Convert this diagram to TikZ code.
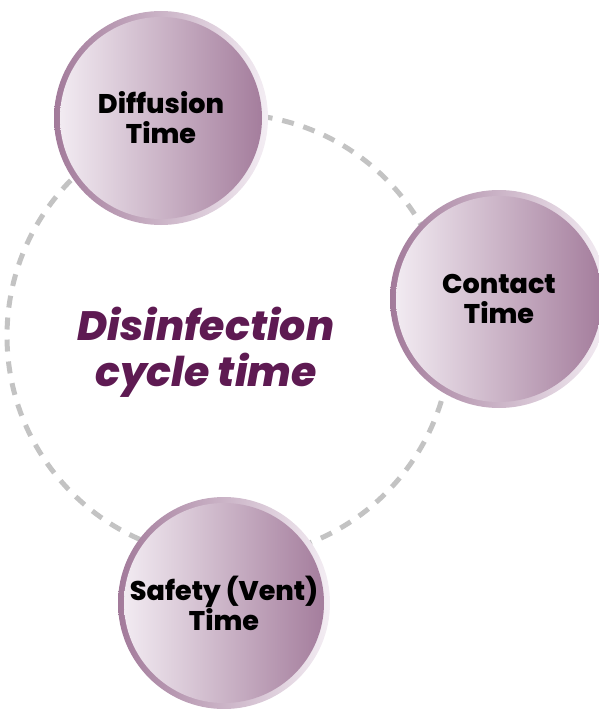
\documentclass[tikz,border=0pt]{standalone}
\usepackage{fontspec}
\newfontfamily\labelfont{Poppins}[BoldFont={Poppins ExtraBold}, BoldItalicFont={Poppins ExtraBold Italic}]
\definecolor{mauve}{HTML}{A27A9A}
\definecolor{lilac}{HTML}{F4EEF4}
\definecolor{plum}{HTML}{5E1A52}
\definecolor{dashgray}{HTML}{C3C3C3}
\tikzset{
  bubble/.style={circle, minimum size=2*#1, inner sep=0pt, align=center,
    left color=mauve, right color=lilac,
    font=\labelfont\bfseries\fontsize{27}{30}\selectfont,
    path picture={\shade[left color=lilac, right color=mauve]
      (path picture bounding box.center) circle (#1-6);}},
  cyclering/.style={draw=dashgray, line width=5pt, dash pattern=on 12pt off 10pt}
}
\begin{document}
\begin{tikzpicture}[x=1pt,y=-1pt]
   \useasboundingbox (0,0) rectangle (598,709);
   % dashed cycle behind the bubbles
   \coordinate (hub) at (229,336);
   \draw[cyclering] (hub) circle (222);
   \node[text=plum, align=center, font=\labelfont\bfseries\itshape\fontsize{41}{46}\selectfont] (cycle) at (206,352) {Disinfection\\cycle time};
   % the three phases
   \node[bubble=107] (diffusion) at (161,118) {Diffusion\\Time};
   \node[bubble=109] (contact) at (499,299) {Contact\\Time};
   \node[bubble=106] (safety) at (224,603) {Safety (Vent)\\Time};
\end{tikzpicture}
\end{document}
